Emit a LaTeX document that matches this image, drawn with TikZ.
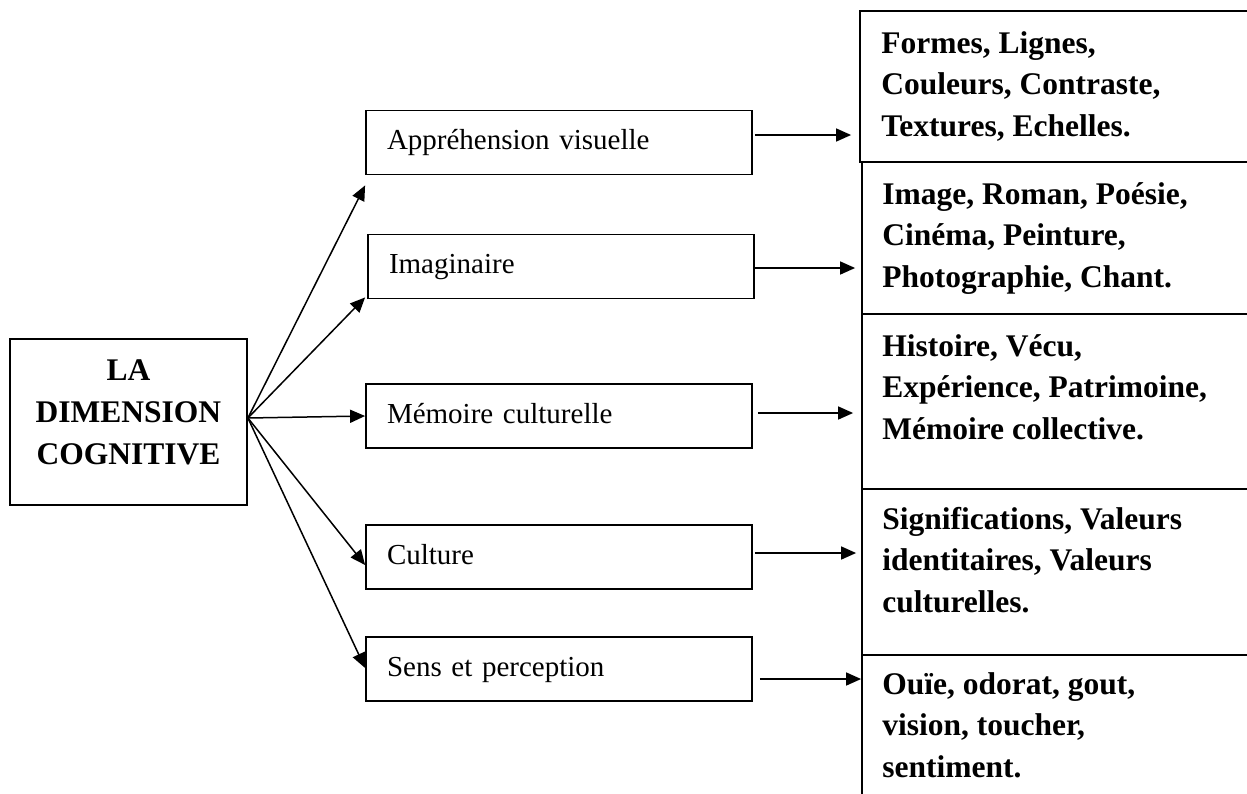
\documentclass[tikz,border=0pt]{standalone}
\usepackage{fontspec}
\setmainfont{Liberation Serif}
\usetikzlibrary{arrows.meta}
\tikzset{
  boxline/.style={draw=black, line width=1.8pt},
  mbox/.style={boxline, rectangle, minimum width=386pt, minimum height=64pt,
    text width=344pt, inner xsep=21pt, inner ysep=0pt, align=left,
    text height=20pt, text depth=6pt, font=\fontsize{29}{34}\selectfont},
  rbox/.style={boxline, rectangle, inner sep=0pt},
  rtext/.style={anchor=base west, inner sep=0pt, align=left,
    font=\bfseries\fontsize{31.5}{41.5}\selectfont},
  arr/.style={draw=black, line width=1.5pt, -{Triangle[length=15pt,width=13pt]}}
}
\begin{document}
\begin{tikzpicture}[x=1pt,y=-1pt]
\useasboundingbox (0,0) rectangle (1247,793);
\fill[white] (0,0) rectangle (1247,793);

% main box
\node[rbox, minimum width=237pt, minimum height=166pt] (main) at (128.5,422) {};
\node[anchor=base, inner sep=0pt, align=center,
  font=\bfseries\fontsize{31.5}{42}\selectfont] (mainlbl) at (128.5,464) {LA\\DIMENSION\\COGNITIVE};

% middle boxes
\node[mbox] (A) at (559,142.5) {Appréhension visuelle};
\node[mbox] (I) at (561,266.5) {Imaginaire};
\node[mbox] (M) at (559,416) {Mémoire culturelle};
\node[mbox] (C) at (559,557) {Culture};
\node[mbox] (S) at (559,669) {Sens et perception};

% right column boxes
\node[rbox, minimum width=440pt, minimum height=151pt] (R1) at (1080,86.5) {};
\node[rbox, minimum width=438pt, minimum height=152pt] (R2) at (1081,238) {};
\node[rbox, minimum width=438pt, minimum height=175pt] (R3) at (1081,401.5) {};
\node[rbox, minimum width=438pt, minimum height=166pt] (R4) at (1081,572) {};
\node[rbox, minimum width=438pt, minimum height=175pt] (R5) at (1081,742.5) {};

\node[rtext] (T1) at ([shift={(22,126)}]R1.north west) {Formes, Lignes,\\Couleurs, Contraste,\\Textures, Echelles.};
\node[rtext] (T2) at ([shift={(21,126)}]R2.north west) {Image, Roman, Poésie,\\Cinéma, Peinture,\\Photographie, Chant.};
\node[rtext] (T3) at ([shift={(21,126)}]R3.north west) {Histoire, Vécu,\\Expérience, Patrimoine,\\Mémoire collective.};
\node[rtext] (T4) at ([shift={(21,124)}]R4.north west) {Significations, Valeurs\\identitaires, Valeurs\\culturelles.};
\node[rtext] (T5) at ([shift={(21,123)}]R5.north west) {Ouïe, odorat, gout,\\vision, toucher,\\sentiment.};

% fan arrows
\coordinate (O) at ([yshift=4pt]main.east);
\draw[arr] (O) -- ([yshift=-10pt]A.south west);
\draw[arr] (O) -- ([shift={(-2pt,2pt)}]I.south west);
\draw[arr] (O) -- (M.west);
\draw[arr] (O) -- ([yshift=-8pt]C.west);
\draw[arr] (O) -- ([yshift=1pt]S.west);

% right arrows
\draw[arr, shorten <=2pt, shorten >=8pt] ([yshift=7.5pt]A.east) -- ([yshift=7.5pt]A.east -| R1.west);
\draw[arr, shorten >=6pt] ([yshift=-1.5pt]I.east) -- ([yshift=-1.5pt]I.east -| R2.west);
\draw[arr, shorten <=5pt, shorten >=8pt] ([yshift=3pt]M.east) -- ([yshift=3pt]M.east -| R3.west);
\draw[arr, shorten <=2pt, shorten >=5pt] ([yshift=4pt]C.east) -- ([yshift=4pt]C.east -| R4.west);
\draw[arr, shorten <=7pt] ([yshift=-10pt]S.east) -- ([yshift=-10pt]S.east -| R5.west);
\end{tikzpicture}
\end{document}
